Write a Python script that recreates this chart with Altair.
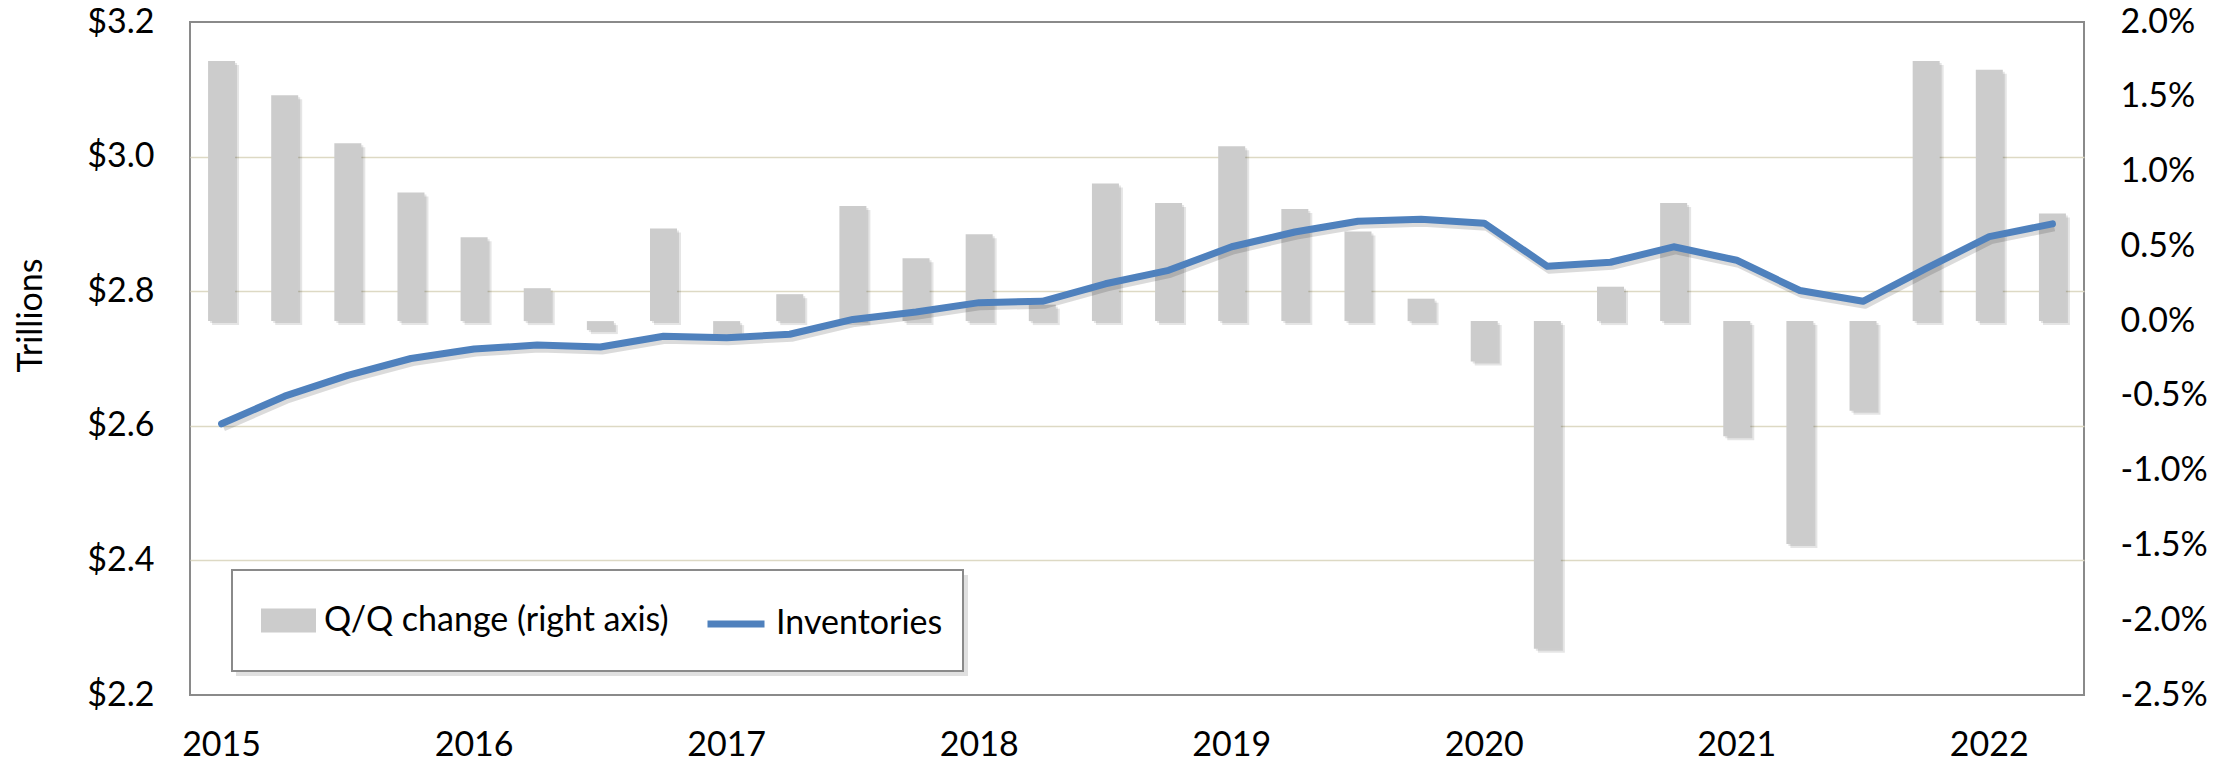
import altair as alt
import pandas as pd

FONT = "Lato"
FS = 34

quarters = [
    "2015 Q1", "2015 Q2", "2015 Q3", "2015 Q4",
    "2016 Q1", "2016 Q2", "2016 Q3", "2016 Q4",
    "2017 Q1", "2017 Q2", "2017 Q3", "2017 Q4",
    "2018 Q1", "2018 Q2", "2018 Q3", "2018 Q4",
    "2019 Q1", "2019 Q2", "2019 Q3", "2019 Q4",
    "2020 Q1", "2020 Q2", "2020 Q3", "2020 Q4",
    "2021 Q1", "2021 Q2", "2021 Q3", "2021 Q4",
    "2022 Q1", "2022 Q2",
]

# Q/Q change, percent (right axis)
qq_change = [
    1.74, 1.51, 1.19, 0.86,
    0.56, 0.22, -0.06, 0.62,
    -0.10, 0.18, 0.77, 0.42,
    0.58, 0.11, 0.92, 0.79,
    1.17, 0.75, 0.60, 0.15,
    -0.27, -2.19, 0.23, 0.79,
    -0.77, -1.49, -0.60, 1.74,
    1.68, 0.72,
]

# Inventories, $ trillions (left axis)
inventories = [
    2.603, 2.644, 2.675, 2.700,
    2.714, 2.720, 2.717, 2.733,
    2.731, 2.736, 2.758, 2.769,
    2.783, 2.785, 2.811, 2.831,
    2.866, 2.888, 2.904, 2.907,
    2.901, 2.837, 2.843, 2.866,
    2.846, 2.801, 2.785, 2.834,
    2.881, 2.900,
]

bar_name = "Q/Q change (right axis)"
line_name = "Inventories"
bar_color = "#CCCCCC"
line_color = "#4F81BD"

left_ticks = [2.2, 2.4, 2.6, 2.8, 3.0, 3.2]
right_ticks = [-2.5, -2.0, -1.5, -1.0, -0.5, 0.0, 0.5, 1.0, 1.5, 2.0]

df = pd.DataFrame({"quarter": quarters, "qq": qq_change, "inv": inventories})

common_legend = dict(
    title=None,
    orient="none",
    direction="horizontal",
    labelFont=FONT,
    labelFontSize=FS,
    labelColor="#000000",
    labelOffset=8,
    labelLimit=800,
    padding=0,
)

x_enc = alt.X(
    "quarter:O",
    sort=quarters,
    scale=alt.Scale(paddingInner=0, paddingOuter=0),
    axis=alt.Axis(
        title=None,
        labelExpr="indexof(datum.value, 'Q1') >= 0 ? slice(datum.value, 0, 4) : ''",
        labelAngle=0,
        ticks=False,
        domain=False,
        labelFont=FONT,
        labelFontSize=FS,
        labelColor="#000000",
        labelPadding=33,
        labelOverlap=False,
    ),
)

bar_y = alt.Y(
    "qq:Q",
    scale=alt.Scale(domain=[-2.5, 2.0], nice=False),
    axis=alt.Axis(
        orient="right",
        title=None,
        values=right_ticks,
        labelExpr="(datum.value < 0 ? '-' : '') + format(abs(datum.value), '.1f') + '%'",
        grid=False,
        ticks=False,
        domain=False,
        labelFont=FONT,
        labelFontSize=FS,
        labelColor="#000000",
        labelPadding=36,
    ),
)

line_y = alt.Y(
    "inv:Q",
    scale=alt.Scale(domain=[2.2, 3.2], nice=False, zero=False),
    axis=alt.Axis(
        orient="left",
        values=left_ticks,
        format="$.1f",
        grid=True,
        gridColor="#DDD9C4",
        gridWidth=1.6,
        gridOpacity={"condition": {"test": "datum.value < 2.25 || datum.value > 3.15", "value": 0}, "value": 1},
        ticks=False,
        domain=False,
        labelFont=FONT,
        labelFontSize=FS,
        labelColor="#000000",
        labelPadding=36,
        title="Trillions",
        titleFont=FONT,
        titleFontSize=FS,
        titleFontWeight="normal",
        titleColor="#000000",
        titleAngle=-90,
        titleX=-159,
        titleY=293,
        titleAlign="center",
        titleBaseline="middle",
    ),
)

base = alt.Chart(df)

bar_shadow1 = base.mark_bar(size=27, color="#000000", opacity=0.10,
                            xOffset=4, yOffset=4, y2Offset=4).encode(x=x_enc, y=bar_y)
bar_shadow2 = base.mark_bar(size=27, color="#000000", opacity=0.10,
                            xOffset=2, yOffset=2, y2Offset=2).encode(x=x_enc, y=bar_y)
bars = base.mark_bar(size=27).transform_calculate(
    series="'" + bar_name + "'"
).encode(
    x=x_enc,
    y=bar_y,
    fill=alt.Fill(
        "series:N",
        scale=alt.Scale(domain=[bar_name], range=[bar_color]),
        legend=alt.Legend(
            legendX=71, legendY=571,
            symbolType="M-1,-0.44H1V0.44H-1Z",
            symbolSize=3025,
            symbolStrokeWidth=0,
            symbolOpacity=1,
            **common_legend,
        ),
    ),
)

line_shadow = base.mark_line(strokeWidth=7, color="#000000", opacity=0.14,
                             xOffset=2, yOffset=4, strokeJoin="round").encode(x=x_enc, y=line_y)
line = base.mark_line(strokeWidth=7, strokeCap="round", strokeJoin="round").transform_calculate(
    series="'" + line_name + "'"
).encode(
    x=x_enc,
    y=line_y,
    stroke=alt.Stroke(
        "series:N",
        scale=alt.Scale(domain=[line_name], range=[line_color]),
        legend=alt.Legend(
            legendX=514, legendY=570,
            symbolType="stroke",
            symbolSize=3249,
            symbolStrokeWidth=7,
            symbolOpacity=1,
            **common_legend,
        ),
    ),
)

# legend frame (decoration) with a soft drop shadow
frame_data = alt.Data(values=[{"frame": 1}])
frame_shadow = alt.Chart(frame_data).mark_rect(color="#000000", opacity=0.12).encode(
    x=alt.value(46), x2=alt.value(778), y=alt.value(553), y2=alt.value(654)
)
frame = alt.Chart(frame_data).mark_rect(fill="#FFFFFF", stroke="#8A8A8A", strokeWidth=2).encode(
    x=alt.value(42), x2=alt.value(773), y=alt.value(548), y2=alt.value(649)
)

bar_layer = alt.layer(bar_shadow1, bar_shadow2, bars)
line_layer = alt.layer(line_shadow, line)

chart = alt.layer(frame_shadow, frame, bar_layer, line_layer).resolve_scale(
    y="independent"
).properties(
    width=1894,
    height=673,
    padding={"left": 182, "top": 14, "right": 130, "bottom": 66},
    autosize=alt.AutoSizeParams(type="none"),
    background="#FFFFFF",
).configure_view(
    stroke="#8A8A8A",
    strokeWidth=2,
)

chart.save("out.html", embed_options={"renderer": "svg", "actions": False})
